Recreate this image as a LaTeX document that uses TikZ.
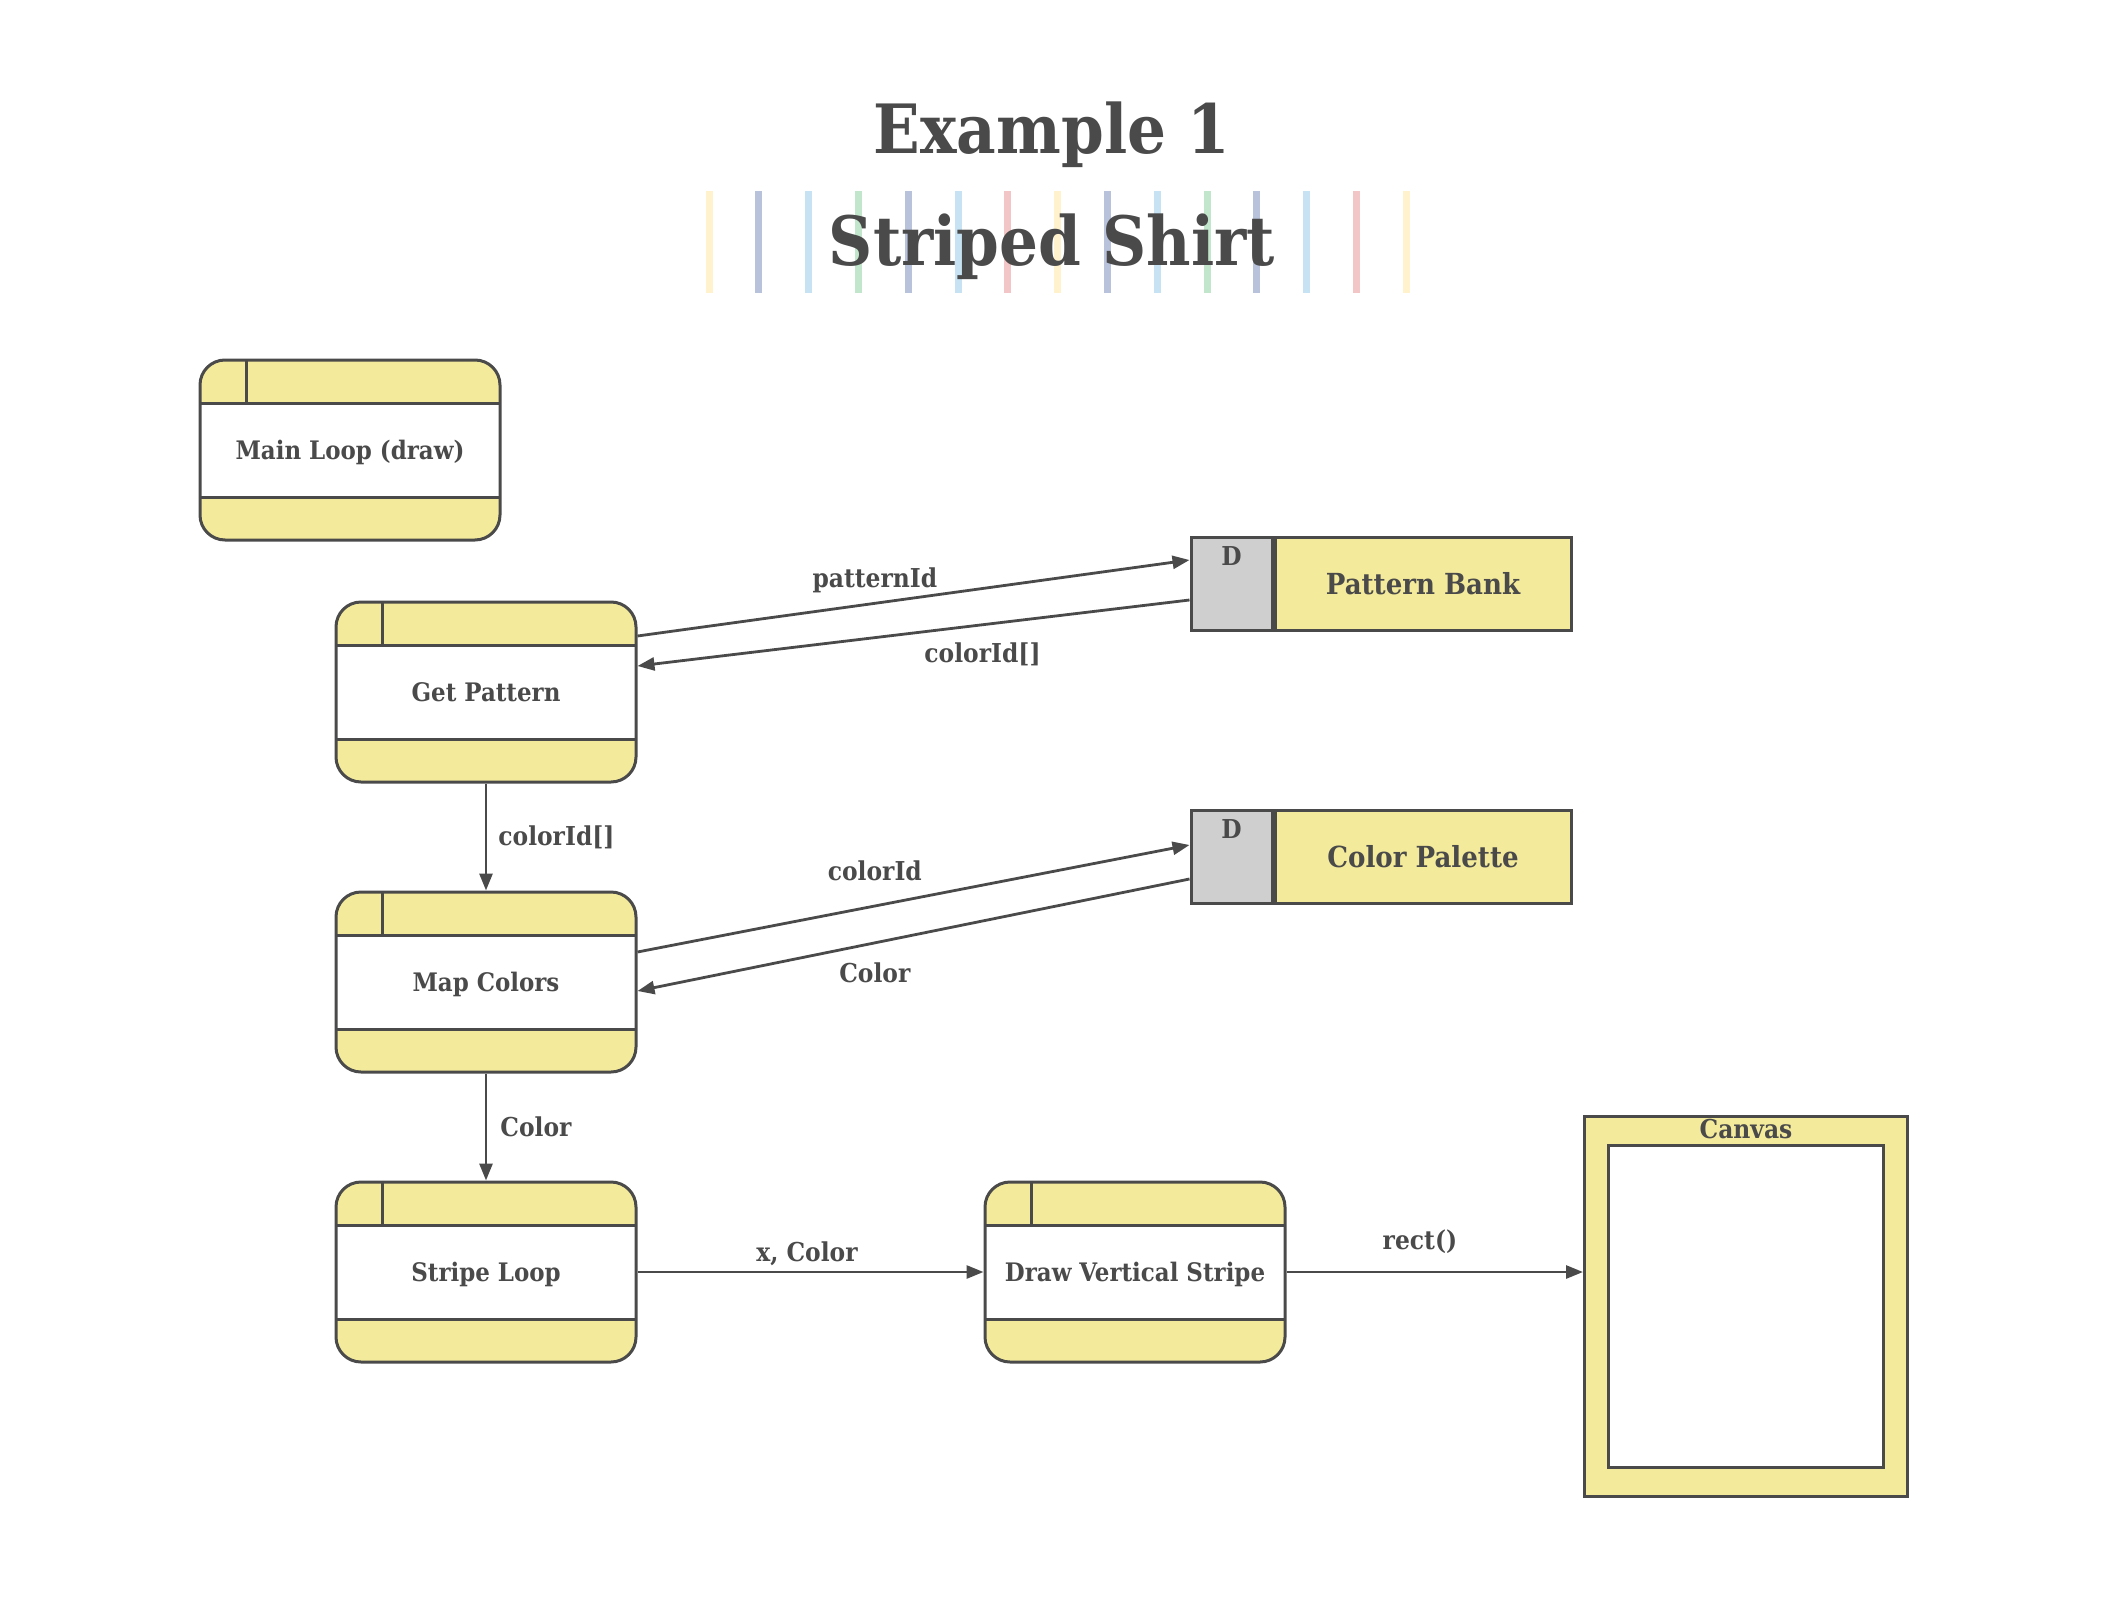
\documentclass[tikz,border=0pt]{standalone}
\usepackage{fontspec}
\setmainfont{DejaVu Serif Condensed}
\usepackage{tikz}
\usetikzlibrary{arrows.meta}
\usetikzlibrary{positioning}
\usepackage{xcolor}
\definecolor{linec}{HTML}{4A4A4A}
\definecolor{boxyellow}{HTML}{F3EA9B}
\definecolor{dgrey}{HTML}{CFCFCF}
\definecolor{sy}{HTML}{FFF2CC}
\definecolor{sn}{HTML}{B8C2DB}
\definecolor{sb}{HTML}{C6E2F3}
\definecolor{sg}{HTML}{C2E6CB}
\definecolor{sr}{HTML}{F2C6C6}

\tikzset{
  process/.style={draw=linec, line width=3pt, fill=boxyellow, rounded corners=25pt,
    minimum width=300pt, minimum height=180pt, inner sep=0pt, text=linec,
    text height=18pt, text depth=0pt,
    font=\fontsize{25.5}{30}\selectfont\bfseries,
    path picture={
      \fill[white, sharp corners] ([yshift=-43pt]path picture bounding box.north west)
        rectangle ([yshift=43pt]path picture bounding box.south east);
      \draw[linec, line width=3pt, sharp corners]
        ([yshift=-43pt]path picture bounding box.north west) -- ([yshift=-43pt]path picture bounding box.north east)
        ([yshift=43pt]path picture bounding box.south west) -- ([yshift=43pt]path picture bounding box.south east)
        ([xshift=46pt]path picture bounding box.north west) -- ([xshift=46pt,yshift=-43pt]path picture bounding box.north west);
    }},
  store/.style={draw=linec, line width=3pt, fill=boxyellow, minimum width=296pt,
    minimum height=93pt, inner sep=0pt, text=linec, font=\fontsize{29}{34}\selectfont\bfseries},
  dbox/.style={draw=linec, line width=3pt, fill=dgrey, minimum width=81pt,
    minimum height=93pt, inner sep=0pt,
    label={[anchor=north, text=linec, font=\fontsize{26}{30}\selectfont\bfseries, inner sep=10pt]north:D}},
  flow/.style={draw=linec, line width=2.8pt, -{Triangle[length=17pt,width=13pt]}},
  flowlabel/.style={text=linec, font=\fontsize{26}{30}\selectfont\bfseries, inner sep=3pt}
}

\begin{document}
\begin{tikzpicture}[x=1pt,y=-1pt]
\useasboundingbox (0,0) rectangle (2109,1600);

% title
\foreach \c [count=\i from 0] in {sy,sn,sb,sg,sn,sb,sr,sy,sn,sb,sg,sn,sb,sr,sy}
  \fill[\c] (709+49.8*\i-3.5,191) rectangle (709+49.8*\i+3.5,293);
\node[text=linec, font=\fontsize{68}{80}\selectfont\bfseries] (title) at (1052,135) {Example 1};
\node[text=linec, font=\fontsize{68}{80}\selectfont\bfseries] (subtitle) at (1052,247) {Striped Shirt};

% processes
\node[process] (mainloop) at (350,450) {Main Loop (draw)};
\node[process] (getpattern) at (486,692) {Get Pattern};
\node[process] (mapcolors) at (486,982) {Map Colors};
\node[process] (stripeloop) at (486,1272) {Stripe Loop};
\node[process] (drawstripe) at (1135,1272) {Draw Vertical Stripe};

% data stores
\node[store] (patternbank) at (1423,584) {Pattern Bank};
\node[dbox, left=0pt of patternbank] (patternbankD) {};
\node[store] (colorpalette) at (1423,857) {Color Palette};
\node[dbox, left=0pt of colorpalette] (colorpaletteD) {};

% canvas
\node[draw=linec, line width=3pt, fill=boxyellow, minimum width=323pt, minimum height=380pt] (canvas) at (1746,1306) {};
\node[draw=linec, line width=3pt, fill=white, minimum width=275pt, minimum height=322pt] (canvasin) at (1746,1306) {};
\node[flowlabel, below=1pt of canvas.north] (canvaslabel) {Canvas};

% flows
\draw[flow] ([yshift=56pt]getpattern.east) -- node[flowlabel, pos=0.43, above=6pt] {patternId} ([yshift=24pt]patternbankD.west);
\draw[flow] ([yshift=-16pt]patternbankD.west) -- node[flowlabel, pos=0.375, below=14pt] {colorId[]} ([yshift=26pt]getpattern.east);
\draw[flow] (getpattern.south) -- node[flowlabel, right=8pt] {colorId[]} (mapcolors.north);
\draw[flow] ([yshift=30pt]mapcolors.east) -- node[flowlabel, pos=0.43, above=21pt] {colorId} ([yshift=12pt]colorpaletteD.west);
\draw[flow] ([yshift=-22pt]colorpaletteD.west) -- node[flowlabel, pos=0.57, below=15pt] {Color} ([yshift=-9pt]mapcolors.east);
\draw[flow] (mapcolors.south) -- node[flowlabel, right=10pt] {Color} (stripeloop.north);
\draw[flow] (stripeloop.east) -- node[flowlabel, pos=0.49, above=2pt] {x, Color} (drawstripe.west);
\draw[flow] (drawstripe.east) -- node[flowlabel, pos=0.45, above=14pt] {rect()} (drawstripe.east -| canvas.west);
\end{tikzpicture}
\end{document}
